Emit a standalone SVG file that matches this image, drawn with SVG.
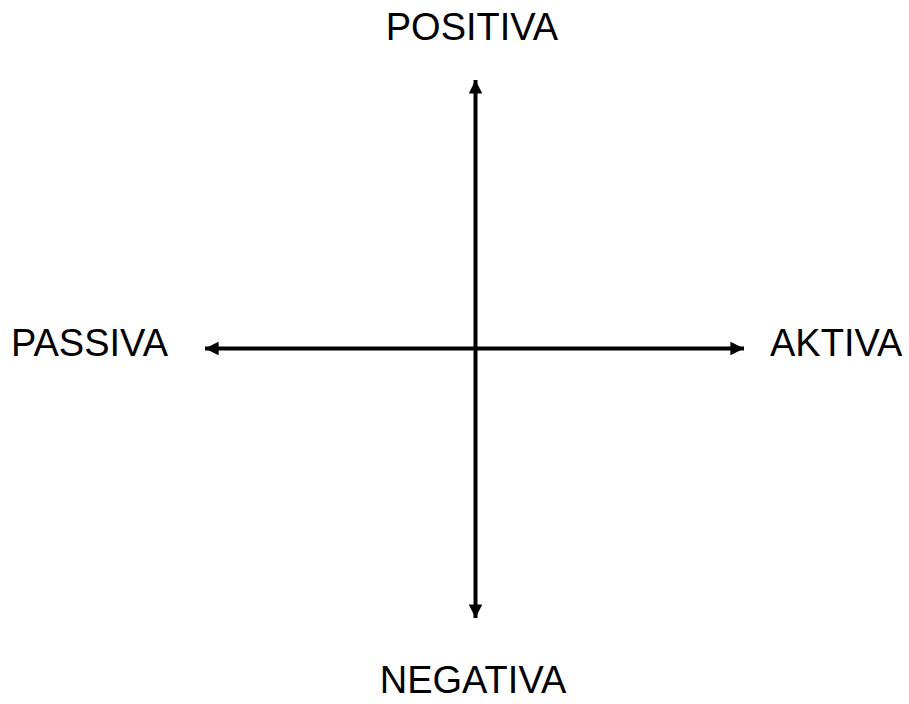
<svg xmlns="http://www.w3.org/2000/svg" width="909" height="704" viewBox="0 0 909 704">
<style>
.lbl{font-family:"Liberation Sans",Arial,sans-serif;font-size:38px;fill:#000}
.ax{stroke:#000;stroke-width:4;fill:none}
</style>
<defs>
<marker id="ah" viewBox="0 0 10 10" refX="10" refY="5" markerWidth="4" markerHeight="3.4" orient="auto-start-reverse" markerUnits="strokeWidth">
<path d="M0,0 L10,5 L0,10 Z" fill="#000"/>
</marker>
</defs>
<rect width="909" height="704" fill="#fff"/>
<g id="connectors">
<line class="ax" x1="475.5" y1="80" x2="475.5" y2="618" marker-start="url(#ah)" marker-end="url(#ah)"/>
<line class="ax" x1="205" y1="348.5" x2="744" y2="348.5" marker-start="url(#ah)" marker-end="url(#ah)"/>
</g>
<g id="positiva"><text class="lbl" x="472" y="40" text-anchor="middle">POSITIVA</text></g>
<g id="negativa"><text class="lbl" x="473" y="693" text-anchor="middle">NEGATIVA</text></g>
<g id="passiva"><text class="lbl" x="11" y="356">PASSIVA</text></g>
<g id="aktiva"><text class="lbl" x="770" y="356">AKTIVA</text></g>
</svg>
